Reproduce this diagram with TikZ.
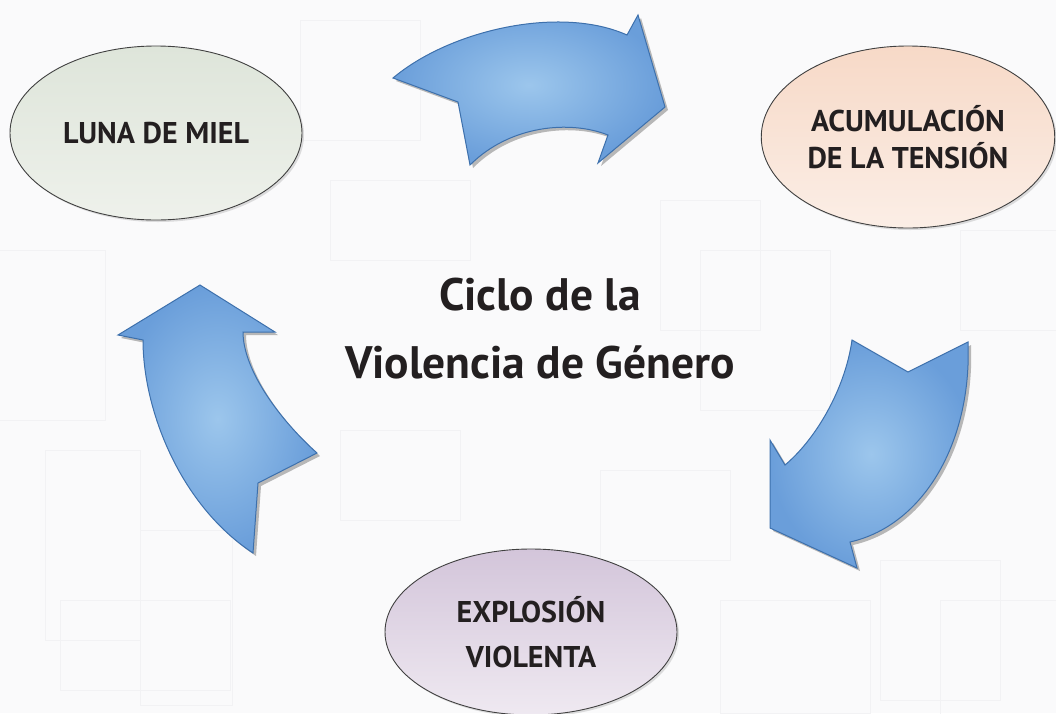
\documentclass[tikz,border=0pt]{standalone}
\usepackage{fontspec}
\setmainfont{PT Sans}
\usetikzlibrary{shapes.geometric,shadows}
\definecolor{bgc}{HTML}{FAFAFB}
\definecolor{gridc}{HTML}{F2F2F4}
\definecolor{arrin}{HTML}{9CC6EC}
\definecolor{arrout}{HTML}{6A9EDA}
\definecolor{arredge}{HTML}{3D70AC}
\definecolor{txt}{HTML}{231F20}
\definecolor{lunatop}{HTML}{DEE5DA}
\definecolor{lunabot}{HTML}{EEF1EB}
\definecolor{acumtop}{HTML}{F7D9C7}
\definecolor{acumbot}{HTML}{FBEEE6}
\definecolor{expltop}{HTML}{D3C5DA}
\definecolor{explbot}{HTML}{EFE9F1}
\tikzset{
  phase/.style={ellipse, draw=black!75, line width=0.9pt, text=txt,
    font=\fontsize{30}{36}\selectfont\bfseries, align=center,
    drop shadow={shadow xshift=2pt, shadow yshift=-2pt, opacity=0.25}},
  cyclearrow/.style={draw=arredge, line width=1pt, inner color=arrin, outer color=arrout,
    drop shadow={shadow xshift=3pt, shadow yshift=-3pt, opacity=0.55}},
  bggrid/.style={draw=gridc, line width=1pt},
}
\begin{document}
\begin{tikzpicture}[x=1pt,y=-1pt]
\useasboundingbox (0,0) rectangle (1056,713);
\fill[bgc] (0,0) rectangle (1056,713);
% faint background texture
\draw[bggrid] (-5,250) rectangle (105,420);
\draw[bggrid] (45,450) rectangle (140,640);
\draw[bggrid] (140,530) rectangle (232,705);
\draw[bggrid] (60,600) rectangle (230,690);
\draw[bggrid] (300,20) rectangle (420,140);
\draw[bggrid] (330,180) rectangle (470,260);
\draw[bggrid] (660,200) rectangle (760,330);
\draw[bggrid] (700,250) rectangle (830,410);
\draw[bggrid] (880,560) rectangle (1000,700);
\draw[bggrid] (940,600) rectangle (1060,720);
\draw[bggrid] (960,230) rectangle (1060,330);
\draw[bggrid] (600,470) rectangle (730,560);
\draw[bggrid] (340,430) rectangle (460,520);
\draw[bggrid] (720,600) rectangle (870,713);

% ellipses
\node[phase, minimum width=292pt, minimum height=174pt,
  top color=lunatop, bottom color=lunabot] (luna) at (156,133) {LUNA DE MIEL};
\node[phase, minimum width=292pt, minimum height=182pt,
  top color=acumtop, bottom color=acumbot] (acum) at (908,137)
  {ACUMULACIÓN\\[1pt]DE LA TENSIÓN};
\node[phase, minimum width=292pt, minimum height=166pt,
  top color=expltop, bottom color=explbot] (expl) at (531,632)
  {EXPLOSIÓN\\[9pt]VIOLENTA};

% title
\node[font=\fontsize{45.5}{68}\selectfont\bfseries, text=txt, align=center] (title) at (540,329)
  {Ciclo de la\\Violencia de Género};

% arrows
\path[cyclearrow] (393,78) .. controls (450,30) and (560,5) .. (627,35)
  -- (638,15) -- (665,107) -- (598,163) -- (608,135)
  .. controls (570,120) and (510,125) .. (470,165)
  -- (458,102) -- cycle;
\path[cyclearrow] (852,340) -- (908,372) -- (968,342)
  .. controls (972,440) and (925,525) .. (850,542)
  -- (857,568) -- (770,528) -- (770,440) -- (785,465)
  .. controls (815,440) and (845,390) .. (852,340) -- cycle;
\path[cyclearrow] (200,285) -- (275,332) -- (243,332)
  .. controls (243,370) and (280,420) .. (317,453)
  -- (258,483) -- (253,553)
  .. controls (180,505) and (143,410) .. (143,340)
  -- (118,335) -- cycle;
\end{tikzpicture}
\end{document}
